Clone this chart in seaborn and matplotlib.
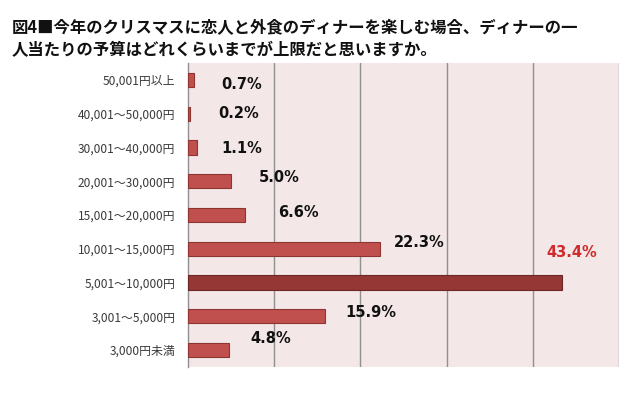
import matplotlib
matplotlib.use('Agg')
import matplotlib.pyplot as plt
import seaborn as sns
import numpy as np

# data (top to bottom as shown)
categories = ['50,001円以上', '40,001～50,000円', '30,001～40,000円',
              '20,001～30,000円', '15,001～20,000円', '10,001～15,000円',
              '5,001～10,000円', '3,001～5,000円', '3,000円未満']
values = [0.7, 0.2, 1.1, 5.0, 6.6, 22.3, 43.4, 15.9, 4.8]
highlight = '5,001～10,000円'

# label placement (layout only, offsets from bar end / row centre)
label_dx = [3.2, 3.3, 2.8, 3.2, 3.8, 1.6, -1.8, 2.4, 2.4]
label_dy = [0.15, 0.0, 0.03, -0.12, -0.06, -0.2, -0.9, -0.1, -0.33]

title = ('図4■今年のクリスマスに恋人と外食のディナーを楽しむ場合、ディナーの一\n'
         '人当たりの予算はどれくらいまでが上限だと思いますか。')

sns.set_style('white')
plt.rcParams['font.family'] = ['Noto Sans CJK JP', 'DejaVu Sans']

fig = plt.figure(figsize=(6.4, 3.99), dpi=100)
ax = fig.add_axes([188 / 640, 32 / 399, 431 / 640, 304 / 399])
ax.set_facecolor('#f3e7e8')

palette = {c: ('#953735' if c == highlight else '#c0504d') for c in categories}
sns.barplot(x=values, y=categories, hue=categories, palette=palette,
            legend=False, orient='h', width=0.42, saturation=1, ax=ax, zorder=3)
for p, c in zip(ax.patches, categories):
    p.set_edgecolor('#6e2624' if c == highlight else '#8e3532')
    p.set_linewidth(0.8)

ax.set_xlim(0, 50)
ax.set_ylim(len(categories) - 0.5, -0.5)
for gx in [10, 20, 30, 40, 50]:
    ax.axvline(gx, color='#909090', lw=1.0, zorder=1)

for sp in ['top', 'right', 'bottom']:
    ax.spines[sp].set_visible(False)
ax.spines['left'].set_color('#909090')
ax.spines['left'].set_linewidth(1.0)

ax.set_xticks([])
ax.set_xlabel('')
ax.set_ylabel('')
ax.tick_params(axis='y', which='major', length=0, pad=9, labelsize=8.6,
               labelcolor='#3a3a3a')
ax.set_yticks(np.arange(len(categories) + 1) - 0.5, minor=True)
ax.tick_params(axis='y', which='minor', length=4, color='#909090', width=1)

for i, (v, dx, dy) in enumerate(zip(values, label_dx, label_dy)):
    col = '#d02a2a' if categories[i] == highlight else '#111111'
    ax.text(v + dx, i + dy, f'{v:.1f}%', ha='left', va='center',
            fontsize=10.5, fontweight='bold', color=col,
            family=['DejaVu Sans'], zorder=4)

fig.text(12 / 640, 1 - 19 / 399, title, ha='left', va='top', fontsize=11.8,
         fontweight='bold', color='#111111', linespacing=1.32)

fig.savefig('out.png', dpi=100)
